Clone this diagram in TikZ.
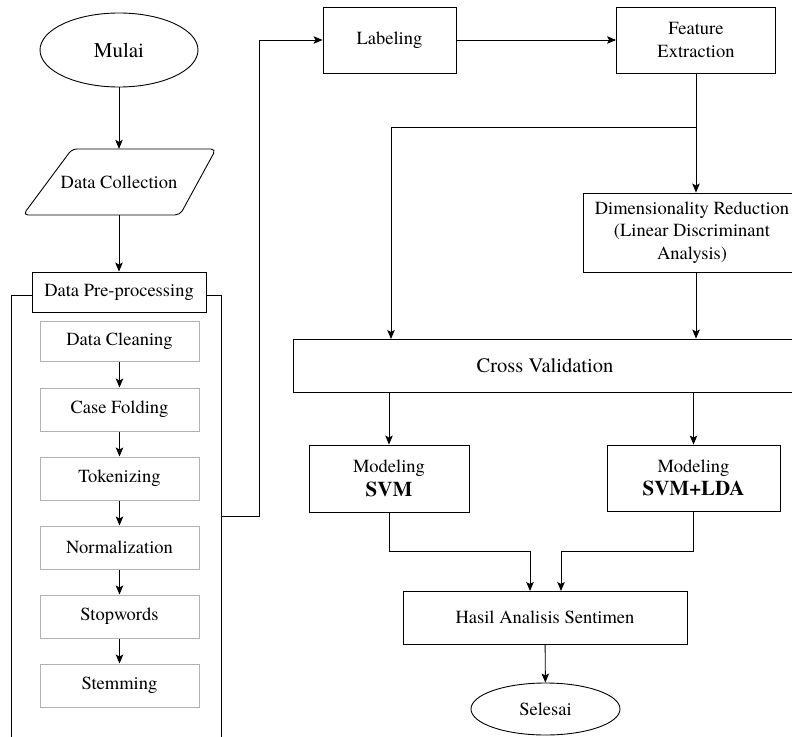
\documentclass[tikz,border=0pt]{standalone}
\usepackage{fontspec}
\setmainfont{texgyretermes-regular.otf}[BoldFont=texgyretermes-bold.otf]
\usetikzlibrary{shapes.geometric,arrows.meta,calc}
\begin{document}
\begin{tikzpicture}[x=1pt,y=-1pt,
  every node/.style={font=\rmfamily\fontsize{18.5}{22.5}\selectfont},
  box/.style={draw, line width=0.9pt, fill=white, align=center, inner sep=0pt, rectangle},
  graybox/.style={box, draw=gray!60, line width=1pt, minimum width=159pt, minimum height=43pt},
  term/.style={draw, line width=0.9pt, ellipse, inner sep=0pt},
  arr/.style={line width=0.9pt, -{Stealth[length=9pt,width=7.5pt,inset=2pt]}},
  ln/.style={line width=0.9pt}]
\useasboundingbox (0,0) rectangle (792,736);
\clip (0,0) rectangle (792,736);
\fill[white] (0,0) rectangle (792,736);

% left column
\node[term, minimum width=158pt, minimum height=74pt, font=\rmfamily\fontsize{21}{25}\selectfont] (mulai) at (119,50) {Mulai};
\draw[ln, rounded corners=5pt] (72,149) -- (216,149) -- (180,215) -- (23,215) -- cycle;
\node[inner sep=0pt, minimum width=120pt, minimum height=66pt] (dc) at (119,182) {Data Collection};

\draw[ln] (11,745) -- (11,295) -- (221,295) -- (221,745);
\coordinate (cont) at (221,516);
\node[box, minimum width=174pt, minimum height=40pt] (dp) at (119,292) {Data Pre-processing};

\node[graybox, minimum height=40pt] (s1) at (119.5,341) {Data Cleaning};
\node[graybox] (s2) at (119.5,409.5) {Case Folding};
\node[graybox] (s3) at (119.5,478.5) {Tokenizing};
\node[graybox] (s4) at (119.5,547.5) {Normalization};
\node[graybox] (s5) at (119.5,616.5) {Stopwords};
\node[graybox] (s6) at (119.5,685.5) {Stemming};

\draw[arr] (mulai) -- (dc);
\draw[arr] (dc) -- (dp);
\draw[arr] (s1) -- (s2);
\draw[arr] (s2) -- (s3);
\draw[arr] (s3) -- (s4);
\draw[arr] (s4) -- (s5);
\draw[arr] (s5) -- (s6);

% right part
\node[box, minimum width=133pt, minimum height=66pt] (lab) at (389.5,40) {Labeling};
\node[box, minimum width=159pt, minimum height=66pt] (fe) at (696,40) {Feature\\Extraction};
\node[box, minimum width=218pt, minimum height=79pt] (dr) at (692,232.5) {Dimensionality Reduction\\(Linear Discriminant\\Analysis)};
\node[box, minimum width=504pt, minimum height=53pt, font=\rmfamily\fontsize{20.5}{24}\selectfont] (cv) at (545,365.5) {Cross Validation};
\node[box, minimum width=160pt, minimum height=67pt] (svm) at (389,478.5) {Modeling\\[1pt]{\fontsize{21}{25}\selectfont\bfseries SVM}};
\node[box, minimum width=173pt, minimum height=66pt] (lda) at (693.5,478) {Modeling\\[1pt]{\fontsize{21}{25}\selectfont\bfseries SVM+LDA}};
\node[box, minimum width=284pt, minimum height=53pt] (hasil) at (545,617.5) {Hasil Analisis Sentimen};
\node[term, minimum width=149pt, minimum height=52pt] (selesai) at (545.5,709) {Selesai};

\coordinate (br) at (696,127);
\coordinate (cvin) at (391,339);
\coordinate (hin1) at (530,591);
\coordinate (hin2) at (561,591);

\draw[arr] (cont) -- (259,516) |- (lab.west);
\draw[arr] (lab) -- (fe);
\draw[arr] (fe.south) -- (fe.south |- dr.north);
\draw[arr] (br) -| (cvin);
\draw[arr] (fe.south |- dr.south) -- (fe.south |- cv.north);
\draw[arr] (svm.north |- cv.south) -- (svm.north);
\draw[arr] (lda.north |- cv.south) -- (lda.north);
\draw[arr] (svm.south) -- ++(0,39) -| (hin1);
\draw[arr] (lda.south) -- ++(0,40) -| (hin2);
\draw[arr] (hasil) -- (selesai);
\end{tikzpicture}
\end{document}
